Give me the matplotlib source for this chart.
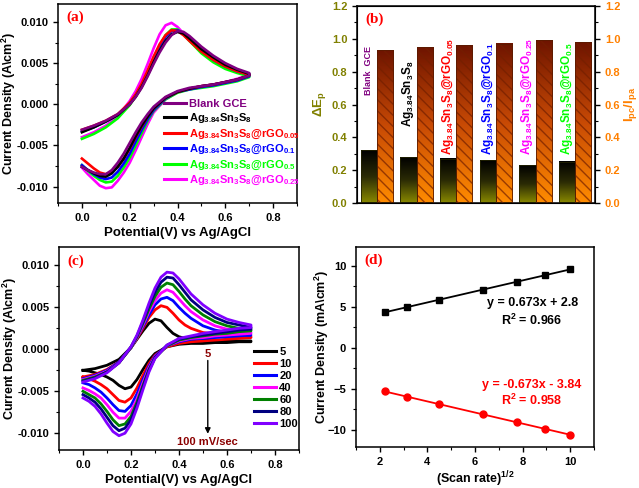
import matplotlib
matplotlib.use('Agg')
import matplotlib.pyplot as plt
import numpy as np
from matplotlib.colors import LinearSegmentedColormap
from matplotlib.ticker import MultipleLocator

plt.rcParams['font.family'] = ['Liberation Sans', 'DejaVu Sans']
plt.rcParams['font.weight'] = 'bold'
plt.rcParams['axes.labelweight'] = 'bold'
plt.rcParams['mathtext.fontset'] = 'custom'
for k in ('rm', 'it', 'bf', 'sf'):
    plt.rcParams['mathtext.' + k] = 'Liberation Sans:bold'

# ---------------- (a) CV of the electrodes ----------------
# anodic scan (0 -> 0.7 V) and cathodic scan (0.7 -> 0 V)
pot_fwd = [0.0, 0.05, 0.1, 0.15, 0.2, 0.225, 0.25, 0.275, 0.3, 0.325, 0.35,
           0.375, 0.4, 0.425, 0.45, 0.5, 0.55, 0.6, 0.65, 0.7]
pot_rev = [0.7, 0.65, 0.6, 0.55, 0.5, 0.45, 0.4, 0.35, 0.3, 0.275, 0.25,
           0.225, 0.2, 0.175, 0.15, 0.125, 0.1, 0.075, 0.05, 0.025, 0.0]

elec_names = ['Blank GCE', 'Ag$_{3.84}$Sn$_3$S$_8$', 'Ag$_{3.84}$Sn$_3$S$_8$@rGO$_{0.05}$',
              'Ag$_{3.84}$Sn$_3$S$_8$@rGO$_{0.1}$', 'Ag$_{3.84}$Sn$_3$S$_8$@rGO$_{0.5}$',
              'Ag$_{3.84}$Sn$_3$S$_8$@rGO$_{0.25}$']
elec_colors = ['#800080', '#000000', '#ff0000', '#0000ff', '#00ff00', '#ff00ff']

fwd_blank = [-0.0031, -0.0026, -0.0020, -0.0012, 0.0000, 0.0009, 0.0020, 0.0034, 0.0049, 0.0063,
             0.0075, 0.0084, 0.0089, 0.0088, 0.0083, 0.0070, 0.0059, 0.0050, 0.0043, 0.0038]
fwd_ass = [-0.0034, -0.0028, -0.0021, -0.0013, 0.0000, 0.0009, 0.0021, 0.0035, 0.0051, 0.0065,
           0.0077, 0.0085, 0.0088, 0.0086, 0.0080, 0.0067, 0.0057, 0.0048, 0.0042, 0.0037]
fwd_r005 = [-0.0031, -0.0026, -0.0020, -0.0012, 0.0002, 0.0012, 0.0025, 0.0041, 0.0058, 0.0073,
            0.0084, 0.0090, 0.0089, 0.0084, 0.0077, 0.0064, 0.0054, 0.0046, 0.0040, 0.0036]
fwd_r01 = [-0.0033, -0.0028, -0.0021, -0.0013, 0.0001, 0.0011, 0.0023, 0.0039, 0.0055, 0.0070,
           0.0082, 0.0089, 0.0090, 0.0086, 0.0079, 0.0065, 0.0054, 0.0046, 0.0040, 0.0036]
fwd_r05 = [-0.0042, -0.0036, -0.0028, -0.0017, -0.0001, 0.0010, 0.0023, 0.0039, 0.0056, 0.0071,
           0.0084, 0.0091, 0.0091, 0.0085, 0.0077, 0.0062, 0.0051, 0.0043, 0.0038, 0.0034]
fwd_r025 = [-0.0040, -0.0034, -0.0026, -0.0015, 0.0004, 0.0016, 0.0031, 0.0049, 0.0068, 0.0085,
            0.0096, 0.0099, 0.0094, 0.0086, 0.0078, 0.0065, 0.0054, 0.0046, 0.0041, 0.0037]

rev_blank = [0.0035, 0.0030, 0.0027, 0.0024, 0.0022, 0.0020, 0.0016, 0.0009, -0.0003, -0.0012, -0.0022,
             -0.0034, -0.0047, -0.0060, -0.0071, -0.0080, -0.0085, -0.0085, -0.0083, -0.0080, -0.0076]
rev_ass = [0.0035, 0.0030, 0.0027, 0.0024, 0.0022, 0.0019, 0.0015, 0.0008, -0.0005, -0.0015, -0.0026,
           -0.0039, -0.0053, -0.0066, -0.0076, -0.0084, -0.0088, -0.0087, -0.0084, -0.0080, -0.0076]
rev_r005 = [0.0035, 0.0030, 0.0027, 0.0024, 0.0022, 0.0019, 0.0015, 0.0008, -0.0005, -0.0015, -0.0027,
            -0.0040, -0.0054, -0.0066, -0.0076, -0.0082, -0.0085, -0.0083, -0.0078, -0.0072, -0.0066]
rev_r01 = [0.0034, 0.0029, 0.0026, 0.0023, 0.0021, 0.0018, 0.0015, 0.0007, -0.0007, -0.0018, -0.0031,
           -0.0045, -0.0060, -0.0072, -0.0082, -0.0089, -0.0091, -0.0089, -0.0085, -0.0080, -0.0074]
rev_r05 = [0.0033, 0.0028, 0.0025, 0.0022, 0.0020, 0.0018, 0.0014, 0.0006, -0.0008, -0.0020, -0.0035,
           -0.0050, -0.0065, -0.0077, -0.0087, -0.0094, -0.0095, -0.0092, -0.0087, -0.0081, -0.0074]
rev_r025 = [0.0036, 0.0031, 0.0027, 0.0024, 0.0022, 0.0019, 0.0015, 0.0006, -0.0010, -0.0024, -0.0040,
            -0.0056, -0.0071, -0.0083, -0.0093, -0.0101, -0.0102, -0.0099, -0.0092, -0.0085, -0.0077]

fwd_a = [fwd_blank, fwd_ass, fwd_r005, fwd_r01, fwd_r05, fwd_r025]
rev_a = [rev_blank, rev_ass, rev_r005, rev_r01, rev_r05, rev_r025]

# ---------------- (b) dEp and Ipc/Ipa ----------------
bar_labels = ['Blank  GCE', 'Ag$_{3.84}$Sn$_3$S$_8$', 'Ag$_{3.84}$Sn$_3$S$_8$@rGO$_{0.05}$',
              'Ag$_{3.84}$Sn$_3$S$_8$@rGO$_{0.1}$', 'Ag$_{3.84}$Sn$_3$S$_8$@rGO$_{0.25}$',
              'Ag$_{3.84}$Sn$_3$S$_8$@rGO$_{0.5}$']
bar_label_colors = ['#800080', '#000000', '#ff0000', '#0000ff', '#ff00ff', '#00ff00']
delta_ep = [0.32, 0.28, 0.27, 0.26, 0.23, 0.25]
ipc_ipa = [0.93, 0.95, 0.96, 0.97, 0.99, 0.98]

# ---------------- (c) scan rate study ----------------
scan_rates = ['5', '10', '20', '40', '60', '80', '100']
scan_colors = ['#000000', '#ff0000', '#0000ff', '#ff00ff', '#008000', '#000080', '#8000ff']

fwd_c = [
    [-0.0025, -0.0023, -0.0019, -0.0012, 0.0002, 0.0012, 0.0022, 0.0031, 0.0036, 0.0034,
     0.0026, 0.0019, 0.0015, 0.0013, 0.0012, 0.0011, 0.0010, 0.0010, 0.0010, 0.0010],
    [-0.0033, -0.0030, -0.0024, -0.0015, 0.0002, 0.0013, 0.0025, 0.0038, 0.0047, 0.0052,
     0.0050, 0.0043, 0.0035, 0.0029, 0.0025, 0.0020, 0.0018, 0.0016, 0.0015, 0.0015],
    [-0.0035, -0.0031, -0.0025, -0.0015, 0.0002, 0.0014, 0.0027, 0.0041, 0.0053, 0.0060,
     0.0062, 0.0058, 0.0050, 0.0043, 0.0037, 0.0028, 0.0023, 0.0020, 0.0018, 0.0017],
    [-0.0036, -0.0032, -0.0026, -0.0016, 0.0002, 0.0014, 0.0029, 0.0045, 0.0058, 0.0067,
     0.0071, 0.0068, 0.0060, 0.0052, 0.0045, 0.0035, 0.0028, 0.0024, 0.0022, 0.0020],
    [-0.0037, -0.0033, -0.0027, -0.0016, 0.0002, 0.0015, 0.0031, 0.0048, 0.0063, 0.0074,
     0.0079, 0.0077, 0.0069, 0.0060, 0.0052, 0.0041, 0.0033, 0.0028, 0.0025, 0.0023],
    [-0.0038, -0.0034, -0.0027, -0.0016, 0.0003, 0.0016, 0.0033, 0.0052, 0.0068, 0.0080,
     0.0086, 0.0085, 0.0077, 0.0068, 0.0059, 0.0047, 0.0038, 0.0032, 0.0029, 0.0026],
    [-0.0039, -0.0035, -0.0028, -0.0016, 0.0003, 0.0017, 0.0035, 0.0055, 0.0073, 0.0086,
     0.0092, 0.0091, 0.0084, 0.0075, 0.0066, 0.0053, 0.0043, 0.0036, 0.0032, 0.0029],
]
rev_c = [
    [0.0009, 0.0009, 0.0008, 0.0008, 0.0007, 0.0007, 0.0006, 0.0003, -0.0005, -0.0013, -0.0024,
     -0.0036, -0.0045, -0.0047, -0.0043, -0.0037, -0.0033, -0.0030, -0.0028, -0.0026, -0.0025],
    [0.0014, 0.0013, 0.0012, 0.0011, 0.0010, 0.0009, 0.0007, 0.0003, -0.0007, -0.0017, -0.0031,
     -0.0046, -0.0058, -0.0063, -0.0061, -0.0054, -0.0047, -0.0042, -0.0038, -0.0035, -0.0033],
    [0.0017, 0.0016, 0.0015, 0.0014, 0.0013, 0.0012, 0.0009, 0.0004, -0.0008, -0.0020, -0.0036,
     -0.0053, -0.0067, -0.0074, -0.0073, -0.0066, -0.0058, -0.0051, -0.0046, -0.0042, -0.0040],
    [0.0019, 0.0018, 0.0017, 0.0016, 0.0014, 0.0013, 0.0010, 0.0004, -0.0009, -0.0022, -0.0040,
     -0.0059, -0.0074, -0.0082, -0.0082, -0.0075, -0.0066, -0.0058, -0.0053, -0.0049, -0.0046],
    [0.0022, 0.0021, 0.0019, 0.0018, 0.0016, 0.0014, 0.0011, 0.0004, -0.0010, -0.0024, -0.0043,
     -0.0063, -0.0080, -0.0089, -0.0091, -0.0084, -0.0074, -0.0065, -0.0058, -0.0054, -0.0050],
    [0.0024, 0.0023, 0.0021, 0.0019, 0.0017, 0.0015, 0.0012, 0.0005, -0.0010, -0.0025, -0.0045,
     -0.0066, -0.0084, -0.0094, -0.0097, -0.0091, -0.0081, -0.0071, -0.0063, -0.0058, -0.0054],
    [0.0026, 0.0025, 0.0023, 0.0021, 0.0019, 0.0016, 0.0013, 0.0005, -0.0011, -0.0027, -0.0048,
     -0.0070, -0.0089, -0.0100, -0.0103, -0.0098, -0.0088, -0.0077, -0.0068, -0.0062, -0.0058],
]

# ---------------- (d) peak current vs sqrt(scan rate) ----------------
sqrt_rate = [2.24, 3.16, 4.47, 6.32, 7.75, 8.94, 10.0]
ipa = [4.35, 4.96, 5.85, 7.07, 8.05, 8.86, 9.55]
ipc = [-5.33, -5.98, -6.87, -8.09, -9.10, -9.88, -10.60]


def style_axes(ax, labelsize=8):
    for sp in ax.spines.values():
        sp.set_linewidth(1.1)
    ax.tick_params(which='major', direction='out', length=3.5, width=1, labelsize=labelsize)
    ax.tick_params(which='minor', direction='out', length=2, width=0.8)
    ax.tick_params(top=False, right=False, which='both')


def cv_axes(ax):
    ax.set_xlim(-0.1, 0.9)
    ax.set_ylim(-0.012, 0.0122)
    ax.xaxis.set_major_locator(MultipleLocator(0.2))
    ax.xaxis.set_minor_locator(MultipleLocator(0.1))
    ax.yaxis.set_major_locator(MultipleLocator(0.005))
    ax.yaxis.set_minor_locator(MultipleLocator(0.0025))
    ax.yaxis.set_major_formatter(plt.FuncFormatter(lambda v, p: '%.3f' % v))
    ax.xaxis.set_major_formatter(plt.FuncFormatter(lambda v, p: '%.1f' % v))
    style_axes(ax)
    ax.set_xlabel('Potential(V) vs Ag/AgCl', fontsize=9.5, labelpad=3)
    ax.set_ylabel('Current Density (A\\cm$^{2}$)', fontsize=9)
    ax.yaxis.set_label_coords(-0.168, 0.5)


def panel_tag(ax, s):
    ax.text(0.035, 0.965, s, transform=ax.transAxes, ha='left', va='top', color='red',
            fontsize=11, fontweight='bold', family='Liberation Serif')


fig = plt.figure(figsize=(6.39, 4.88), dpi=100)

# (a)
ax_a = fig.add_axes([0.0908, 0.584, 0.374, 0.408])
draw_order = [5, 4, 3, 2, 1, 0]
for i in draw_order:
    ax_a.plot(pot_fwd + pot_rev, fwd_a[i] + rev_a[i], color=elec_colors[i], lw=1.9)
handles = [plt.Line2D([], [], color=c, lw=2.2) for c in elec_colors]
leg = ax_a.legend(handles, elec_names, loc='upper left', bbox_to_anchor=(0.42, 0.55),
                  frameon=False, fontsize=8, handlelength=2.0, handletextpad=0.25,
                  labelspacing=0.2, borderpad=0, labelcolor=elec_colors)
cv_axes(ax_a)
panel_tag(ax_a, '(a)')

# (b)
ax_b = fig.add_axes([0.5587, 0.584, 0.3725, 0.4037])
ax_b2 = ax_b.twinx()
x = np.arange(len(delta_ep))
w = 0.41
cmap_ep = LinearSegmentedColormap.from_list('ep', ['#000000', '#2b2b05', '#8a8a00'])
cmap_ip = LinearSegmentedColormap.from_list('ip', ['#6e1400', '#c84a05', '#ff8c00'])
grad = np.linspace(0, 1, 256).reshape(-1, 1)
for i in range(len(x)):
    ax_b.imshow(grad, cmap=cmap_ep, aspect='auto', extent=[x[i] - w, x[i], 0, delta_ep[i]],
                zorder=2)
    ax_b.imshow(grad, cmap=cmap_ip, aspect='auto', extent=[x[i], x[i] + w, 0, ipc_ipa[i]],
                zorder=2)
ax_b.bar(x - w / 2, delta_ep, width=w, facecolor='none', edgecolor='#222200', lw=0.6, zorder=3)
ax_b.bar(x + w / 2, ipc_ipa, width=w, facecolor='none', edgecolor=(0.45, 0.12, 0.0, 0.7),
         hatch='\\\\\\', lw=0, zorder=3)
ax_b.bar(x + w / 2, ipc_ipa, width=w, facecolor='none', edgecolor='#5a1a00', lw=0.6, zorder=3)
label_y = [0.66, 0.46, 0.295, 0.295, 0.29, 0.29]
label_size = [6.5, 8.5, 8.5, 8.5, 8.5, 8.5]
for i, s in enumerate(bar_labels):
    ax_b.text(x[i] - w / 2, label_y[i], s, rotation=90, ha='center', va='bottom',
              color=bar_label_colors[i], fontsize=label_size[i], zorder=4)
for a in (ax_b, ax_b2):
    a.set_ylim(0, 1.2)
    a.yaxis.set_major_locator(MultipleLocator(0.2))
    a.yaxis.set_minor_locator(MultipleLocator(0.1))
ax_b.set_xlim(-0.5, 5.5)
ax_b.set_xticks([])
style_axes(ax_b)
ax_b2.tick_params(which='major', direction='out', length=3.5, width=1, labelsize=8,
                  labelcolor='#ff8000')
ax_b2.tick_params(which='minor', direction='out', length=2, width=0.8)
ax_b.tick_params(axis='y', labelcolor='#808000')
ax_b.set_ylabel('ΔE$_p$', color='#808000', fontsize=9.5)
ax_b.yaxis.set_label_coords(-0.12, 0.5)
ax_b2.set_ylabel('I$_{pc}$/I$_{pa}$', color='#ff8000', fontsize=9.5, rotation=90, labelpad=1)
ax_b.yaxis.set_major_formatter(plt.FuncFormatter(lambda v, p: '%.1f' % v))
ax_b2.yaxis.set_major_formatter(plt.FuncFormatter(lambda v, p: '%.1f' % v))
panel_tag(ax_b, '(b)')

# (c)
ax_c = fig.add_axes([0.0923, 0.0779, 0.3756, 0.416])
for i in range(len(scan_rates)):
    ax_c.plot(pot_fwd + pot_rev, fwd_c[i] + rev_c[i], color=scan_colors[i], lw=2.0)
handles = [plt.Line2D([], [], color=c, lw=2.2) for c in scan_colors]
ax_c.legend(handles, scan_rates, loc='upper left', bbox_to_anchor=(0.79, 0.535), frameon=False,
            fontsize=8, handlelength=2.0, handletextpad=0.25, labelspacing=0.18, borderpad=0)
ax_c.annotate('', xy=(0.52, -0.0104), xytext=(0.52, -0.0010),
              arrowprops=dict(arrowstyle='-|>', color='black', lw=1, mutation_scale=8))
ax_c.text(0.52, -0.0005, '5', ha='center', va='center', color='#8b0000', fontsize=8)
ax_c.text(0.52, -0.0110, '100 mV/sec', ha='center', va='center', color='#8b0000', fontsize=8)
cv_axes(ax_c)
panel_tag(ax_c, '(c)')

# (d)
ax_d = fig.add_axes([0.557, 0.084, 0.3725, 0.41])
for yy, col, mk in ((ipa, 'black', 's'), (ipc, 'red', 'o')):
    k, b = np.polyfit(sqrt_rate, yy, 1)
    xs = np.array([sqrt_rate[0], sqrt_rate[-1]])
    ax_d.plot(xs, k * xs + b, color=col, lw=1.3)
    ax_d.plot(sqrt_rate, yy, mk, color=col, ms=5)
ax_d.text(0.74, 0.72, 'y = 0.673x + 2.8', transform=ax_d.transAxes, ha='center', va='center',
          fontsize=9)
ax_d.text(0.74, 0.635, 'R$^2$ = 0.966', transform=ax_d.transAxes, ha='center', va='center',
          fontsize=9)
ax_d.text(0.74, 0.31, 'y = -0.673x - 3.84', transform=ax_d.transAxes, ha='center', va='center',
          fontsize=9, color='red')
ax_d.text(0.74, 0.235, 'R$^2$ = 0.958', transform=ax_d.transAxes, ha='center', va='center',
          fontsize=9, color='red')
ax_d.set_xlim(1, 11)
ax_d.set_ylim(-12.1, 12.3)
ax_d.xaxis.set_major_locator(MultipleLocator(2))
ax_d.xaxis.set_minor_locator(MultipleLocator(1))
ax_d.yaxis.set_major_locator(MultipleLocator(5))
ax_d.yaxis.set_minor_locator(MultipleLocator(2.5))
style_axes(ax_d)
ax_d.set_xlabel('(Scan rate)$^{1/2}$', fontsize=9, labelpad=2)
ax_d.set_ylabel('Current Density (mA\\cm$^2$)', fontsize=9)
ax_d.yaxis.set_label_coords(-0.105, 0.5)
panel_tag(ax_d, '(d)')

fig.savefig('out.png', dpi=100)
